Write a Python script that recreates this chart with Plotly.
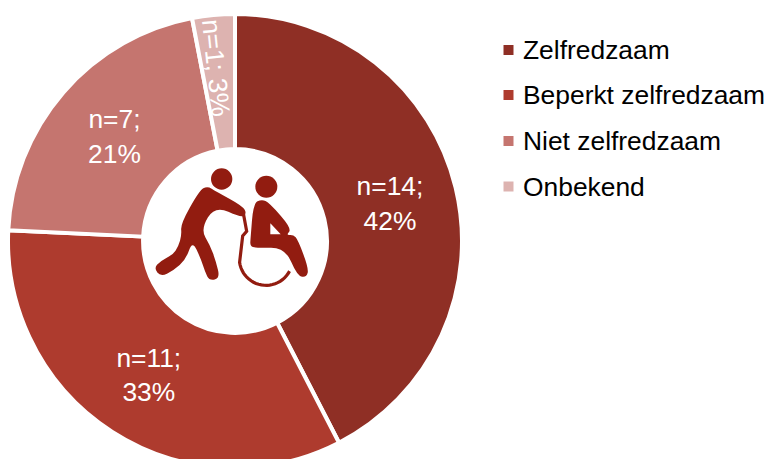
import numpy as np
import plotly.graph_objects as go

categories = ["Zelfredzaam", "Beperkt zelfredzaam", "Niet zelfredzaam", "Onbekend"]
counts = [14, 11, 7, 1]
percents = [42, 33, 21, 3]
colors = ["#8F2F25", "#AE3B2E", "#C5756F", "#DDB3B0"]
ICON = "#921C10"
W, H = 768, 468
CX, CY, R = 235, 241, 227
FS = 26.4
FONT = "Liberation Sans, Arial, sans-serif"


def px(x):
    return x / W


def py(y):
    return 1 - y / H


def zoom_pts(pts):
    return [(130 + x / 3, 150 + y / 3) for x, y in pts]


def fmt(x, y):
    return f"{px(x):.5f},{py(y):.5f}"


def poly(pts, fill, line=None, lw=0, close=True):
    p = zoom_pts(pts)
    d = "M" + " L".join(fmt(x, y) for x, y in p) + (" Z" if close else "")
    return dict(type="path", xref="paper", yref="paper", path=d,
                fillcolor=fill if close else "rgba(0,0,0,0)",
                line=dict(color=line or fill, width=lw), layer="above")


def smooth(pts, fill):
    p = zoom_pts(pts)
    n = len(p)
    mids = [((p[i][0] + p[(i + 1) % n][0]) / 2, (p[i][1] + p[(i + 1) % n][1]) / 2) for i in range(n)]
    d = "M" + fmt(*mids[-1])
    for i in range(n):
        d += " Q" + fmt(*p[i]) + " " + fmt(*mids[i])
    return dict(type="path", xref="paper", yref="paper", path=d + " Z", fillcolor=fill,
                line=dict(color=fill, width=0), layer="above")


def circ(x, y, r, fill):
    x, y = 130 + x / 3, 150 + y / 3
    r /= 3
    return dict(type="circle", xref="paper", yref="paper", x0=px(x - r), x1=px(x + r),
                y0=py(y + r), y1=py(y - r), fillcolor=fill, line_width=0, layer="above")


labels_text = [f"n={c};<br>{p}%" for c, p in zip(counts, percents)]
labels_text[-1] = ""

fig = go.Figure(go.Pie(
    labels=categories, values=counts, text=labels_text, textinfo="text",
    textposition="inside", insidetextorientation="horizontal",
    sort=False, direction="clockwise", rotation=0, hole=0.405,
    marker=dict(colors=colors, line=dict(color="white", width=4)),
    textfont=dict(family=FONT, size=FS, color="white"),
    domain=dict(x=[(CX - R) / W, (CX + R) / W], y=[0, 1 - (CY - R) / H]),
    showlegend=False, hoverinfo="label+value+percent",
))

shapes, annos = [], []

# legend
leg_y = [50, 95, 141, 186.5]
for name, col, y in zip(categories, colors, leg_y):
    shapes.append(dict(type="rect", xref="paper", yref="paper", x0=px(503.5), x1=px(513.5),
                       y0=py(y + 5), y1=py(y - 5), fillcolor=col, line_width=0))
    annos.append(dict(text=name, x=px(520.5), y=py(y), xref="paper", yref="paper", xanchor="left",
                      yanchor="middle", showarrow=False,
                      font=dict(family=FONT, size=FS, color="#000000")))

# narrow slice label, rotated along the slice
annos.append(dict(text=f"n={counts[3]}; {percents[3]}%", x=px(216), y=py(68), xref="paper", yref="paper",
                  xanchor="center", yanchor="middle", textangle=84, showarrow=False,
                  font=dict(family=FONT, size=FS, color="white")))

# centre icon: carer pushing a wheelchair
shapes += [circ(275, 87, 32, ICON), circ(409, 110, 33, ICON)]
pusher = [(208, 122), (232, 108), (258, 124), (338, 168), (350, 190), (335, 204), (255, 167),
          (212, 238), (240, 285), (258, 335), (270, 385), (238, 392), (225, 365), (212, 325),
          (187, 272), (168, 328), (130, 362), (92, 380), (72, 355), (90, 334), (128, 314),
          (145, 290), (155, 255), (152, 222)]
shapes.append(smooth(pusher, ICON))
seated = [(370, 160), (395, 148), (418, 158), (486, 236), (468, 256), (490, 254), (504, 270),
          (536, 355), (530, 382), (502, 378), (465, 292), (378, 294), (360, 288), (362, 262)]
shapes.append(smooth(seated, ICON))
shapes.append(poly([(421, 220), (421, 253), (452, 253)], "white"))
angs = np.radians(np.arange(172, 25, -6))
wheel = [(340, 190), (350, 244), (338, 258)] + [(408 + 80 * np.cos(a), 326 + 80 * np.sin(a)) for a in angs]
shapes.append(poly(wheel, ICON, line=ICON, lw=3.2, close=False))

fig.update_layout(width=W, height=H, margin=dict(l=0, r=0, t=0, b=0), paper_bgcolor="white",
                  shapes=shapes, annotations=annos, showlegend=False)
fig.write_html("out.html", config=dict(displayModeBar=False),
               post_script="document.body.style.margin='0';document.body.style.overflow='hidden';document.documentElement.style.overflow='hidden';")
